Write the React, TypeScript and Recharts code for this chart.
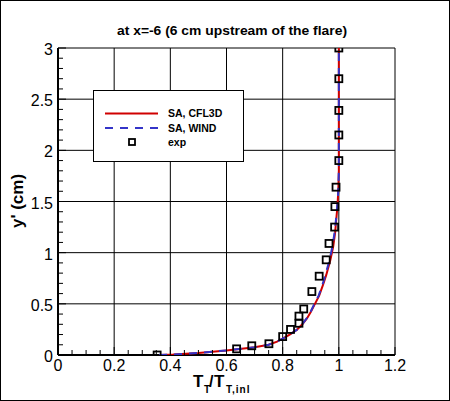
import React from "react";
import { ScatterChart, Scatter, XAxis, YAxis, ReferenceLine } from "recharts";

const FONT = "'Liberation Sans', Arial, Helvetica, sans-serif";

// axis tick labels (major)
const X_MAJOR = [0, 0.2, 0.4, 0.6, 0.8, 1, 1.2];
const Y_MAJOR = [0, 0.5, 1, 1.5, 2, 2.5, 3];

// minor tick steps
const X_STEP = 0.05;
const Y_STEP = 0.1;

// SA, CFL3D
const CFL3D_TT = [0.36, 0.41, 0.5, 0.6, 0.7, 0.75, 0.78, 0.8, 0.825, 0.85, 0.87, 0.887, 0.9, 0.915, 0.93, 0.943, 0.955, 0.97, 0.98, 0.987, 0.99, 0.995, 0.998, 1.0, 1.0, 1.0, 1.0];
const CFL3D_Y = [0, 0.005, 0.02, 0.045, 0.075, 0.1, 0.13, 0.16, 0.2, 0.245, 0.3, 0.36, 0.42, 0.5, 0.58, 0.68, 0.78, 0.93, 1.06, 1.2, 1.3, 1.45, 1.6, 1.8, 2.0, 2.5, 3.0];

// SA, WIND
const WIND_TT = [0.36, 0.41, 0.5, 0.6, 0.7, 0.75, 0.78, 0.8, 0.825, 0.85, 0.869, 0.886, 0.899, 0.913, 0.928, 0.941, 0.952, 0.967, 0.977, 0.985, 0.989, 0.994, 0.998, 1.0, 1.0, 1.0, 1.0];
const WIND_Y = [0, 0.005, 0.02, 0.045, 0.075, 0.1, 0.13, 0.16, 0.2, 0.245, 0.3, 0.36, 0.42, 0.5, 0.58, 0.68, 0.78, 0.93, 1.06, 1.2, 1.3, 1.45, 1.6, 1.8, 2.0, 2.5, 3.0];

// exp
const EXP_TT = [0.353, 0.636, 0.69, 0.751, 0.8, 0.828, 0.858, 0.858, 0.875, 0.904, 0.93, 0.955, 0.965, 0.985, 0.986, 0.99, 1.0, 1.0, 1.0, 1.0, 1.0];
const EXP_Y = [0, 0.06, 0.09, 0.11, 0.18, 0.25, 0.31, 0.38, 0.45, 0.62, 0.77, 0.93, 1.09, 1.25, 1.45, 1.64, 1.9, 2.15, 2.39, 2.7, 3.0];

const RED = "#d00000";
const BLUE = "#3434c8";

const toPoints = (xs: number[], ys: number[]) =>
  xs.map((x, i) => ({ x, y: ys[i] }));

const steps = (max: number, step: number) => {
  const out: number[] = [];
  const n = Math.round(max / step);
  for (let i = 0; i <= n; i++) out.push(Math.round(i * step * 1000) / 1000);
  return out;
};

const isMajor = (v: number, list: number[]) =>
  list.some((m) => Math.abs(m - v) < 1e-6);

const XTick = (props: any) => {
  const { x, y, payload } = props;
  const major = isMajor(payload.value, X_MAJOR);
  return (
    <g>
      <line x1={x} y1={y} x2={x} y2={y - (major ? 8 : 5)} stroke="#000" strokeWidth={1} />
      {major && (
        <text x={x} y={y + 16} textAnchor="middle" fontSize={16} fontFamily={FONT} fill="#000">
          {String(payload.value)}
        </text>
      )}
    </g>
  );
};

const YTick = (props: any) => {
  const { x, y, payload } = props;
  const major = isMajor(payload.value, Y_MAJOR);
  return (
    <g>
      <line x1={x} y1={y} x2={x + (major ? 8 : 5)} y2={y} stroke="#000" strokeWidth={1} />
      {major && (
        <text x={x - 5} y={y + 7} textAnchor="end" fontSize={16} fontFamily={FONT} fill="#000">
          {String(payload.value)}
        </text>
      )}
    </g>
  );
};

const Square = (props: any) => {
  const { cx, cy } = props;
  if (cx == null || cy == null) return <g />;
  return (
    <rect x={cx - 3.5} y={cy - 3.5} width={7} height={7} fill="none" stroke="#000" strokeWidth={1.8} />
  );
};

const NoDot = () => <g />;

export default function App() {
  const cfl3d = toPoints(CFL3D_TT, CFL3D_Y);
  const wind = toPoints(WIND_TT, WIND_Y);
  const exp = toPoints(EXP_TT, EXP_Y);

  return (
    <div
      style={{
        position: "absolute",
        left: 0,
        top: 0,
        width: 450,
        height: 401,
        background: "#fff",
      }}
    >
      <ScatterChart
        width={450}
        height={401}
        margin={{ top: 48, right: 55, bottom: 0, left: 0 }}
      >
        <XAxis
          type="number"
          dataKey="x"
          domain={[0, 1.2]}
          ticks={steps(1.2, X_STEP)}
          interval={0}
          height={46}
          tickSize={0}
          tickMargin={0}
          tickLine={false}
          tick={<XTick />}
          axisLine={{ stroke: "#000", strokeWidth: 2 }}
          allowDataOverflow
        />
        <YAxis
          type="number"
          dataKey="y"
          domain={[0, 3]}
          ticks={steps(3, Y_STEP)}
          interval={0}
          width={58}
          tickSize={0}
          tickMargin={0}
          tickLine={false}
          tick={<YTick />}
          axisLine={{ stroke: "#000", strokeWidth: 2 }}
          allowDataOverflow
        />

        {X_MAJOR.slice(1).map((v) => (
          <ReferenceLine key={"gx" + v} x={v} stroke="#000" strokeWidth={1} />
        ))}
        {Y_MAJOR.slice(1).map((v) => (
          <ReferenceLine key={"gy" + v} y={v} stroke="#000" strokeWidth={1} />
        ))}

        <Scatter
          name="SA, CFL3D"
          data={cfl3d}
          line={{ stroke: RED, strokeWidth: 2 }}
          lineJointType="linear"
          shape={<NoDot />}
          isAnimationActive={false}
        />
        <Scatter
          name="SA, WIND"
          data={wind}
          line={{ stroke: BLUE, strokeWidth: 2, strokeDasharray: "8 7" }}
          lineJointType="linear"
          shape={<NoDot />}
          isAnimationActive={false}
        />
        <Scatter
          name="exp"
          data={exp}
          shape={<Square />}
          isAnimationActive={false}
        />
      </ScatterChart>

      <svg
        width={450}
        height={401}
        style={{ position: "absolute", left: 0, top: 0, pointerEvents: "none" }}
        fontFamily={FONT}
      >
        <rect x={0.5} y={0.5} width={449} height={400} fill="none" stroke="#000" strokeWidth={1} />

        <text x={232} y={35} textAnchor="middle" fontSize={13} fontWeight="bold" textLength={230} lengthAdjust="spacingAndGlyphs">
          at x=-6 (6 cm upstream of the flare)
        </text>

        <text
          x={0}
          y={0}
          transform="translate(23 201) rotate(-90)"
          textAnchor="middle"
          fontSize={17}
          fontWeight="bold"
        >
          y' (cm)
        </text>

        <g fontWeight="bold">
          <text x={193} y={387} fontSize={17}>T</text>
          <text x={204} y={393} fontSize={10}>T</text>
          <text x={209} y={387} fontSize={16}>/</text>
          <text x={214} y={387} fontSize={17}>T</text>
          <text x={226} y={393} fontSize={10} letterSpacing={1}>T,inl</text>
        </g>

        <g>
          <rect x={93.5} y={90.5} width={150} height={71} fill="#fff" stroke="#000" strokeWidth={1} />
          <line x1={105} y1={113.5} x2={158} y2={113.5} stroke={RED} strokeWidth={2} />
          <line x1={105} y1={128} x2={158} y2={128} stroke={BLUE} strokeWidth={2} strokeDasharray="8 7" />
          <rect x={129} y={139} width={6} height={6} fill="none" stroke="#000" strokeWidth={1.8} />
          <text x={168} y={117} fontSize={10.5} fontWeight="bold">SA, CFL3D</text>
          <text x={168} y={132} fontSize={10.5} fontWeight="bold">SA, WIND</text>
          <text x={168} y={146} fontSize={10.5} fontWeight="bold">exp</text>
        </g>
      </svg>
    </div>
  );
}
